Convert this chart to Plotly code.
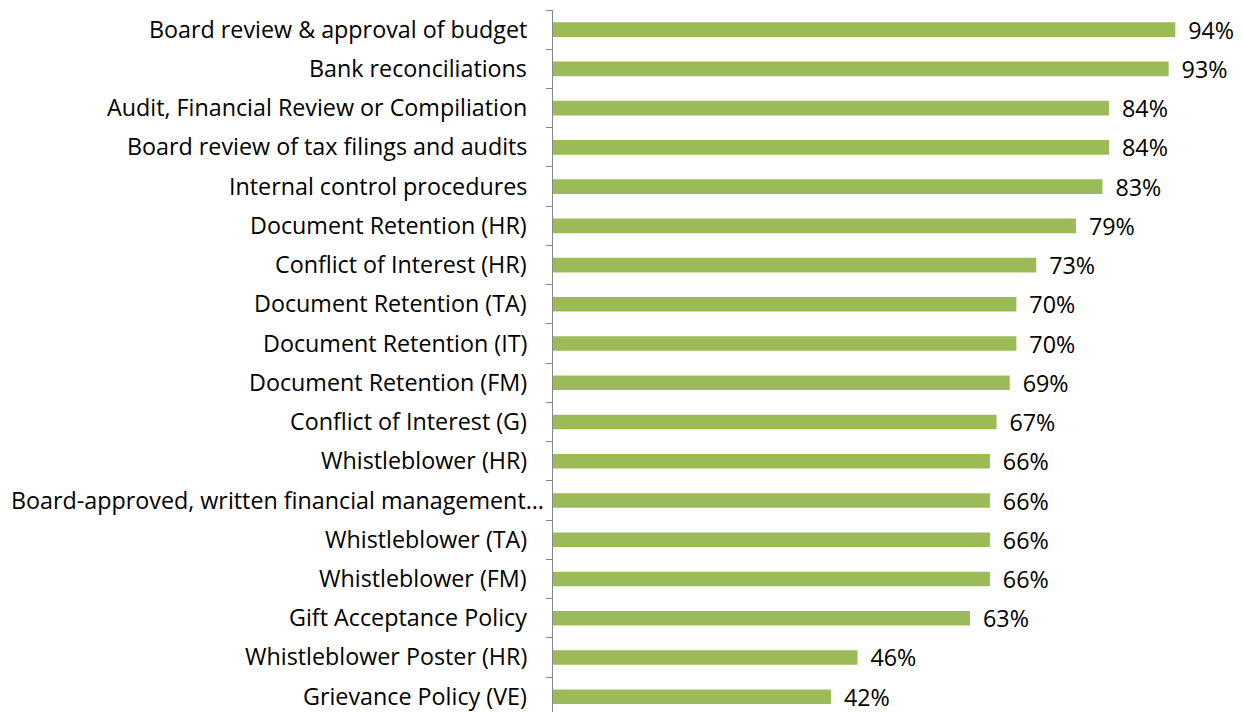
import plotly.graph_objects as go

# Policies, listed top to bottom
policies = [
    "Board review & approval of budget",
    "Bank reconciliations",
    "Audit, Financial Review or Compiliation",
    "Board review of tax filings and audits",
    "Internal control procedures",
    "Document Retention (HR)",
    "Conflict of Interest (HR)",
    "Document Retention (TA)",
    "Document Retention (IT)",
    "Document Retention (FM)",
    "Conflict of Interest (G)",
    "Whistleblower (HR)",
    "Board-approved, written financial management…",
    "Whistleblower (TA)",
    "Whistleblower (FM)",
    "Gift Acceptance Policy",
    "Whistleblower Poster (HR)",
    "Grievance Policy (VE)",
]
# Share of organisations with each policy in place (%)
shares = [94, 93, 84, 84, 83, 79, 73, 70, 70, 69, 67, 66, 66, 66, 66, 63, 46, 42]

# Plotly draws horizontal bar categories bottom-up, so reverse the order
cats = policies[::-1]
vals = shares[::-1]

FONT = "'Open Sans', Lato, sans-serif"
SIZE = 23.3

fig = go.Figure(
    go.Bar(
        y=cats,
        x=vals,
        orientation="h",
        marker=dict(color="#9BBB59", line=dict(width=0)),
        text=[f" \u2009{v}%" for v in vals],
        textposition="outside",
        constraintext="none",
        textfont=dict(family=FONT, size=SIZE, color="#000000"),
        cliponaxis=False,
        hoverinfo="skip",
    )
)

# Category labels, right-aligned against the axis; the truncated long label
# runs a little further right, up to the axis line.
for c in cats:
    fig.add_annotation(
        x=0,
        xref="paper",
        y=c,
        yref="y",
        text=c,
        showarrow=False,
        xanchor="right",
        yanchor="middle",
        borderpad=0,
        xshift=-8 if c.endswith("…") else -25,
        yshift=1,
        font=dict(family=FONT, size=SIZE, color="#000000"),
    )

fig.update_layout(
    width=1243,
    height=712,
    margin=dict(l=553, r=28, t=10, b=0),
    paper_bgcolor="white",
    plot_bgcolor="white",
    bargap=0.627,
    showlegend=False,
    font=dict(family=FONT, size=SIZE, color="#000000"),
    xaxis=dict(
        range=[0, 100],
        visible=False,
        showgrid=False,
        zeroline=False,
    ),
    yaxis=dict(
        type="category",
        range=[-0.39, 17.5],
        showline=True,
        linecolor="#868686",
        linewidth=1,
        ticks="outside",
        tickson="boundaries",
        ticklen=6,
        tickcolor="#868686",
        showticklabels=False,
        showgrid=False,
        zeroline=False,
    ),
)

fig.write_html("out.html")
